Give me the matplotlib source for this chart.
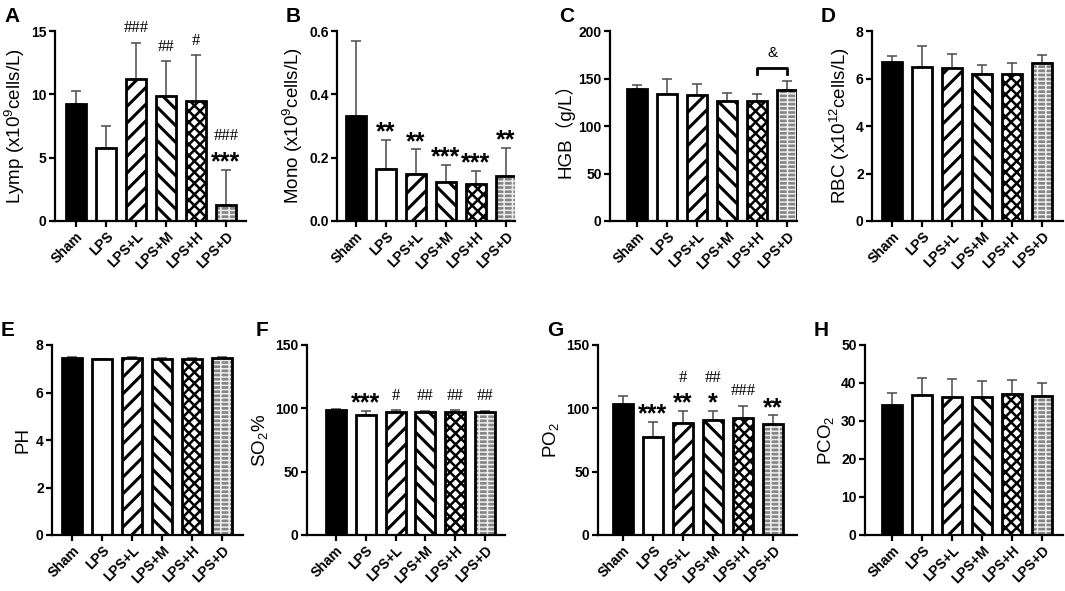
import numpy as np
import matplotlib
matplotlib.use("Agg")
import matplotlib.pyplot as plt

plt.rcParams["font.family"] = ["Liberation Sans", "DejaVu Sans"]
plt.rcParams["mathtext.fontset"] = "custom"
plt.rcParams["mathtext.rm"] = "Liberation Sans"
plt.rcParams["mathtext.bf"] = "Liberation Sans:bold"
plt.rcParams["hatch.linewidth"] = 2.0

groups = ["Sham", "LPS", "LPS+L", "LPS+M", "LPS+H", "LPS+D"]

lymp_mean = [9.26, 5.80, 11.24, 9.90, 9.45, 1.27]
lymp_sd = [1.04, 1.67, 2.82, 2.70, 3.65, 2.77]
mono_mean = [0.333, 0.164, 0.148, 0.123, 0.116, 0.141]
mono_sd = [0.234, 0.092, 0.078, 0.055, 0.042, 0.090]
hgb_mean = [139, 134, 133, 126, 126, 138]
hgb_sd = [4, 16, 11, 9, 8, 9]
rbc_mean = [6.68, 6.47, 6.46, 6.19, 6.19, 6.64]
rbc_sd = [0.27, 0.89, 0.57, 0.38, 0.45, 0.36]
ph_mean = [7.45, 7.41, 7.44, 7.43, 7.42, 7.44]
ph_sd = [0.05, 0.02, 0.04, 0.03, 0.04, 0.04]
so2_mean = [98.7, 94.7, 97.5, 97.4, 97.3, 97.3]
so2_sd = [0.5, 3.2, 1.0, 0.8, 1.2, 0.7]
po2_mean = [103.2, 77.4, 88.3, 90.7, 92.0, 87.5]
po2_sd = [6.6, 12.2, 9.6, 7.2, 9.9, 6.9]
pco2_mean = [34.2, 36.8, 36.2, 36.2, 37.0, 36.6]
pco2_sd = [3.1, 4.6, 4.9, 4.2, 3.8, 3.3]

# significance marks: stars vs Sham, hashes vs LPS
lymp_stars = ["", "", "", "", "", "***"]
lymp_hash = ["", "", "###", "##", "#", "###"]
mono_stars = ["", "**", "**", "***", "***", "**"]
so2_stars = ["", "***", "", "", "", ""]
so2_hash = ["", "", "#", "##", "##", "##"]
po2_stars = ["", "***", "**", "*", "", "**"]
po2_hash = ["", "", "#", "##", "###", ""]

# face, hatch, hatch colour, hatch width
bar_styles = [
    ("black", None, None, 2.0),
    ("white", None, None, 2.0),
    ("white", "//", "black", 2.2),
    ("white", "\\\\", "black", 2.2),
    ("white", "xxx", "black", 1.8),
    ("#858585", "----||", "#eeeeee", 1.1),
]

W, H = 1065, 591
fig = plt.figure(figsize=(W / 100, H / 100), dpi=100)

x = np.arange(len(groups))
STAR_FS = 18
HASH_FS = 12


def make_axes(l, r, t, b):
    return fig.add_axes([l / W, 1 - b / H, (r - l) / W, (b - t) / H])


def star(ax, xi, yc, txt):
    ax.annotate(txt, xy=(xi, yc), xytext=(0, -0.56 * STAR_FS), textcoords="offset points",
                ha="center", va="baseline", fontsize=STAR_FS, fontweight="bold",
                annotation_clip=False)


def hashmark(ax, xi, yc, txt):
    ax.annotate(txt, xy=(xi, yc), xytext=(0, -0.34 * HASH_FS), textcoords="offset points",
                ha="center", va="baseline", fontsize=HASH_FS, family="Liberation Serif",
                annotation_clip=False)


def panel(box, xlim, mean, sd, ylim, yticks, ylabel, letter, stars=None, hashes=None):
    ax = make_axes(*box)
    for i in range(len(groups)):
        fc, h, hc, hw = bar_styles[i]
        with plt.rc_context({"hatch.linewidth": hw}):
            b = ax.bar(x[i], mean[i], width=0.67, color=fc, edgecolor=hc if hc else fc,
                       linewidth=0, hatch=h, zorder=2)
        for p in b:
            if hasattr(p, "set_hatch_linewidth"):
                p.set_hatch_linewidth(hw)
    ax.bar(x, mean, width=0.67, fill=False, edgecolor="black", linewidth=2.0, zorder=3)
    ax.errorbar(x, mean, yerr=[np.zeros(len(sd)), sd], fmt="none", ecolor="#4a4a4a",
                elinewidth=1.1, capsize=3.3, capthick=1.1, zorder=1)
    ax.set_xlim(*xlim)
    ax.set_ylim(*ylim)
    ax.set_yticks(yticks)
    ax.set_xticks(x)
    ax.set_xticklabels(groups, rotation=45, ha="right", rotation_mode="anchor",
                       fontsize=10, fontweight="bold")
    for lab in ax.get_yticklabels():
        lab.set_fontweight("bold")
        lab.set_fontsize(10)
    ax.tick_params(width=1.6, length=4, pad=2)
    for s in ["top", "right"]:
        ax.spines[s].set_visible(False)
    for s in ["left", "bottom"]:
        ax.spines[s].set_linewidth(1.6)
    ax.set_ylabel(ylabel, fontsize=13.5, labelpad=3)
    fig.text((box[0] - 51) / W, 1 - (box[2] - 24) / H, letter, fontsize=15,
             fontweight="bold", va="top")

    yr = ylim[1] - ylim[0]
    tops = np.array(mean) + np.array(sd)
    for i in range(len(groups)):
        yc = tops[i] + 0.075 * yr
        if stars and stars[i]:
            star(ax, x[i], yc, stars[i])
            yc = yc + 0.10 * yr
        if hashes and hashes[i]:
            hashmark(ax, x[i], yc + 0.01 * yr, hashes[i])
    return ax


panel((55, 246, 31, 221), (-0.70, 5.67), lymp_mean, lymp_sd, (0, 15), [0, 5, 10, 15],
      r"Lymp (x10$^{\mathregular{9}}$cells/L)", "A", lymp_stars, lymp_hash)
panel((337, 515, 31, 221), (-0.63, 5.30), mono_mean, mono_sd, (0, 0.6), [0.0, 0.2, 0.4, 0.6],
      r"Mono (x10$^{\mathregular{9}}$cells/L)", "B", mono_stars)
axc = panel((610, 797, 31, 221), (-0.90, 5.33), hgb_mean, hgb_sd, (0, 200), [0, 50, 100, 150, 200],
            "HGB", "C")
axc.set_ylabel("HGB（g/L）", fontsize=13.5, labelpad=3,
               family=["Liberation Sans", "Noto Sans CJK SC"])
panel((872, 1063, 31, 221), (-0.67, 5.70), rbc_mean, rbc_sd, (0, 8), [0, 2, 4, 6, 8],
      r"RBC (x10$^{\mathregular{12}}$cells/L)", "D")
panel((52, 243, 345, 535), (-0.67, 5.70), ph_mean, ph_sd, (0, 8), [0, 2, 4, 6, 8],
      "PH", "E")
panel((307, 505, 345, 535), (-0.97, 5.67), so2_mean, so2_sd, (0, 150), [0, 50, 100, 150],
      r"SO$_{\mathregular{2}}$%", "F", so2_stars, so2_hash)
panel((598, 797, 345, 535), (-0.83, 5.80), po2_mean, po2_sd, (0, 150), [0, 50, 100, 150],
      r"PO$_{\mathregular{2}}$", "G", po2_stars, po2_hash)
panel((865, 1063, 345, 535), (-0.90, 5.70), pco2_mean, pco2_sd, (0, 50), [0, 10, 20, 30, 40, 50],
      r"PCO$_{\mathregular{2}}$", "H")

# bracket LPS+H vs LPS+D in HGB panel
hgb_tops = np.array(hgb_mean) + np.array(hgb_sd)
yb = max(hgb_tops[4], hgb_tops[5]) + 14
axc.plot([x[4], x[4], x[5], x[5]], [yb - 6, yb, yb, yb - 6], color="black", lw=2.0,
         clip_on=False)
axc.text((x[4] + x[5]) / 2, yb + 9, "&", ha="center", va="bottom", fontsize=11)

fig.savefig("out.png", dpi=100)
